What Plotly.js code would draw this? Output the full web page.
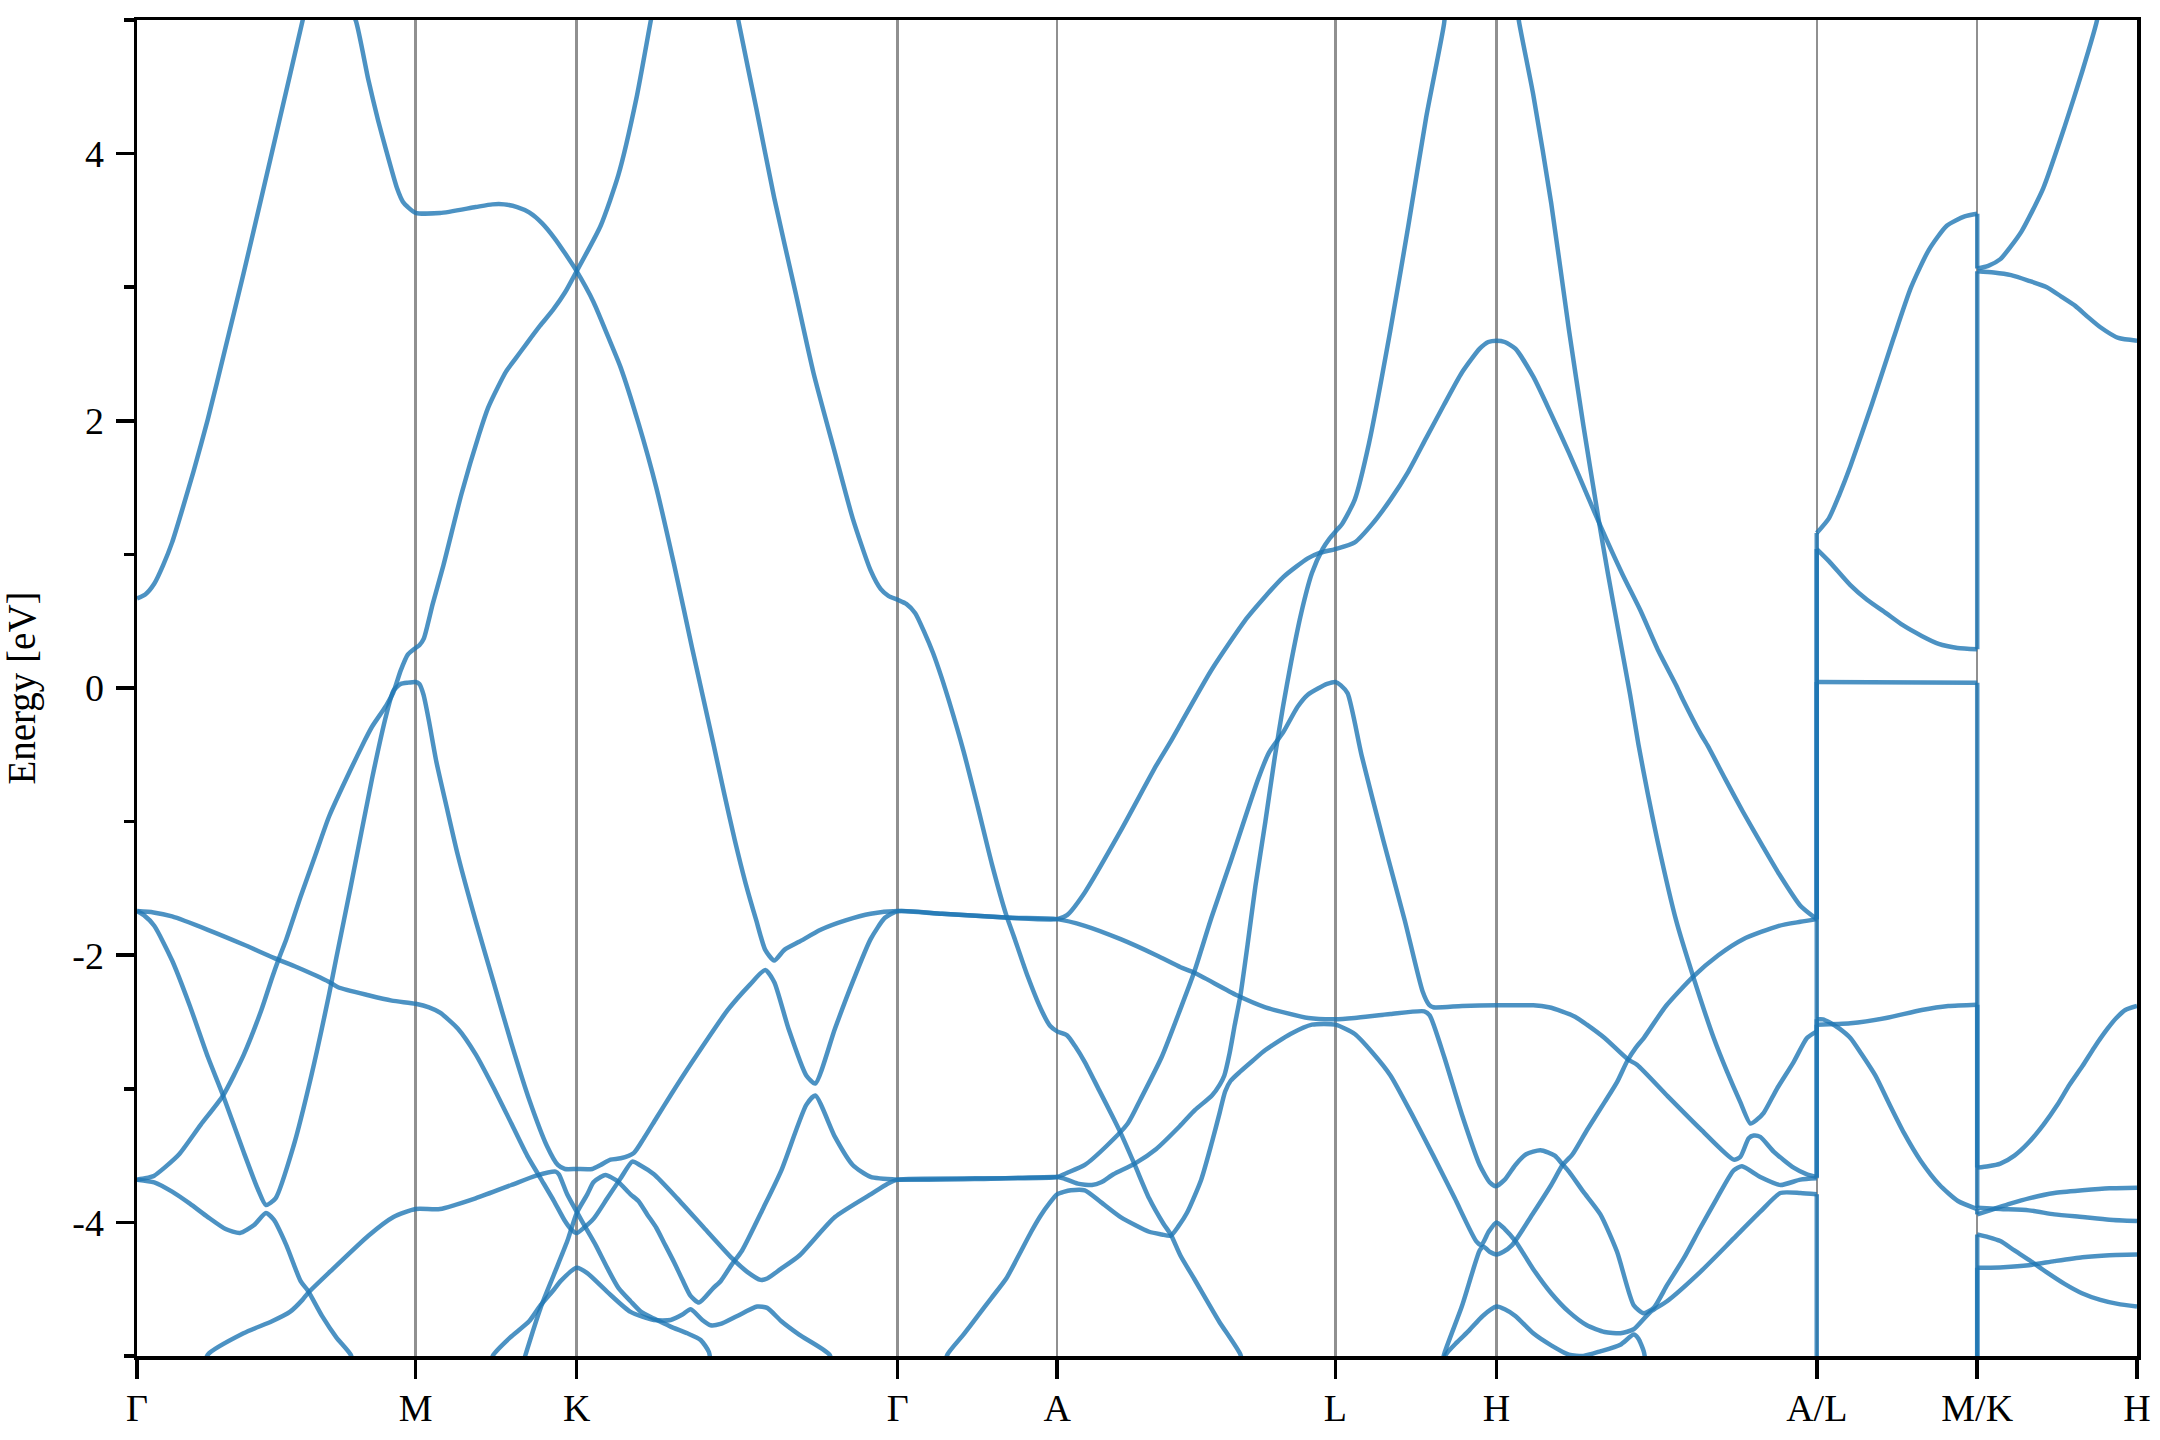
<!DOCTYPE html>
<html>
<head>
<meta charset="utf-8">
<script src="https://cdn.plot.ly/plotly-3.0.1.min.js"></script>
<style>html,body{margin:0;padding:0;background:#fff;}#chart{width:2160px;height:1440px;}</style>
</head>
<body>
<div id="chart"></div>
<script>
// k-path positions of the high-symmetry points and their labels
const kTicks = [0, 202.3, 319.2, 552.3, 668, 870, 987, 1219.5, 1336, 1452];
const kLabels = ['Γ', 'M', 'K', 'Γ', 'A', 'L', 'H', 'A/L', 'M/K', 'H'];
const eTicks = [-4, -2, 0, 2, 4];
const eTickText = ['-4', '-2', '0', '2', '4'];
const eMinor = [-5, -3, -1, 1, 3, 5];

// band pieces [k, E(eV)]
const T1 = [[0,0.67],[6,0.70],[12.5,0.78],[19,0.92],[25.5,1.09],[33,1.34],[41,1.62],[51.4,2.01],[64.3,2.55],[77.3,3.10],[90.3,3.67],[103.2,4.24],[120.1,4.99],[122.5,5.1]];
const T2 = [[154,5.1],[159,4.99],[168,4.55],[175,4.25],[181,4.02],[188.8,3.74],[193,3.64],[196.6,3.60],[202.3,3.556],[220,3.555],[245.8,3.60],[258,3.62],[266.6,3.62],[276,3.60],[284.7,3.56],[294,3.48],[302.9,3.37],[311,3.25],[319.2,3.12],[331.4,2.89],[344.4,2.57],[351.1,2.40],[364.1,1.98],[377,1.50],[390,0.92],[403,0.30],[418.5,-0.42],[426.3,-0.79],[434,-1.14],[441.8,-1.46],[449.6,-1.74],[456.1,-1.96],[462.6,-2.04],[470,-1.96],[480.7,-1.90],[496.3,-1.81],[514.4,-1.74],[532.6,-1.69],[552.3,-1.67],[584.4,-1.69],[633.7,-1.72],[668,-1.73],[675.2,-1.70],[688.1,-1.53],[714.1,-1.07],[740,-0.58],[750.5,-0.40],[757.6,-0.27],[780.4,0.14],[806.3,0.53],[832.2,0.83],[850,0.97],[858.1,1.01],[870,1.04],[884.1,1.09],[897,1.23],[910,1.41],[923,1.62],[935.9,1.87],[948.9,2.12],[961.8,2.36],[974.8,2.54],[981,2.59],[987,2.60],[993,2.59],[1000.7,2.54],[1013.7,2.33],[1026.7,2.05],[1039.6,1.76],[1052.6,1.45],[1063,1.20],[1078.5,0.85],[1091.5,0.58],[1104.4,0.28],[1117.4,0.02],[1122,-0.08],[1135,-0.34],[1140.2,-0.43],[1153,-0.68],[1166.1,-0.93],[1180,-1.18],[1192,-1.39],[1207.6,-1.63],[1219.5,-1.73]];
const P3 = [[0,-3.68],[6,-3.67],[12.5,-3.65],[20,-3.59],[30.6,-3.49],[46.2,-3.27],[62.5,-3.05],[77.3,-2.75],[90.3,-2.41],[98,-2.17],[103.2,-2.02],[108.4,-1.88],[118.8,-1.56],[129.2,-1.26],[139.5,-0.96],[155.1,-0.61],[165.5,-0.39],[170.6,-0.29],[181,-0.13],[186.2,-0.03],[191.4,0.13],[196.6,0.25],[202.3,0.30],[205,0.32],[208.2,0.37],[214.7,0.63],[222.5,0.92],[235.5,1.45],[248.4,1.90],[255,2.10],[261.4,2.24],[268,2.37],[274.4,2.46],[283,2.58],[292.5,2.71],[302,2.83],[310.7,2.96],[319.2,3.12],[336.6,3.46],[349.5,3.84],[362.5,4.41],[372.9,4.99],[375,5.1]];
const P4 = [[0,-1.67],[12,-1.68],[25.5,-1.71],[51.4,-1.81],[77.3,-1.92],[99.3,-2.02],[116.2,-2.09],[139.5,-2.20],[146,-2.24],[168,-2.30],[185,-2.34],[202.3,-2.364],[212,-2.39],[220,-2.43],[233,-2.55],[245.8,-2.74],[258.8,-2.99],[271.8,-3.26],[283.3,-3.50],[293,-3.67],[302.7,-3.84],[310.7,-3.99],[315,-4.05],[319.2,-4.08],[324.5,-4.04],[331.7,-3.97],[341.4,-3.82],[351.1,-3.67],[359.6,-3.545],[365,-3.57],[375.3,-3.64],[392.2,-3.82],[411.6,-4.04],[432.1,-4.27],[443,-4.37],[452.7,-4.43],[457.5,-4.42],[467.2,-4.35],[480.7,-4.25],[506.7,-3.96],[532.6,-3.79],[545,-3.71],[552.3,-3.68],[610,-3.67],[668,-3.66],[675,-3.63],[688.1,-3.57],[703.7,-3.43],[719.3,-3.26],[728.5,-3.08],[744,-2.76],[757.6,-2.40],[767.4,-2.13],[780,-1.72],[793.3,-1.32],[814,-0.68],[822,-0.48],[832.2,-0.33],[842.6,-0.14],[850,-0.05],[858.1,0.0],[864,0.03],[870,0.045],[874,0.02],[878.9,-0.04],[889.2,-0.51],[904.8,-1.14],[920.4,-1.74],[933.3,-2.27],[938,-2.37],[941.1,-2.39],[962,-2.38],[987,-2.375],[1013.7,-2.375],[1025,-2.39],[1034.4,-2.42],[1044,-2.46],[1052.6,-2.52],[1065.5,-2.62],[1082.4,-2.78],[1089,-2.82],[1110.8,-3.05],[1135,-3.30],[1159.2,-3.53],[1164,-3.51],[1170.1,-3.37],[1173.7,-3.35],[1178.5,-3.36],[1188.2,-3.47],[1202.7,-3.59],[1212.4,-3.64],[1219.5,-3.66]];
const P5 = [[0,-1.67],[5,-1.70],[12.5,-1.78],[25.5,-2.04],[38.4,-2.38],[51.4,-2.76],[62.5,-3.05],[77.3,-3.47],[87.7,-3.75],[93.6,-3.87],[100.6,-3.82],[113.6,-3.43],[126.6,-2.90],[139.5,-2.29],[144.7,-2.02],[155.1,-1.49],[170.6,-0.68],[181,-0.20],[186.2,-0.02],[191.4,0.03],[196.6,0.04],[202.3,0.045],[205,0.03],[208,-0.05],[212,-0.25],[217.3,-0.55],[225,-0.90],[232.9,-1.25],[245.8,-1.74],[258.8,-2.20],[271.8,-2.66],[284.7,-3.08],[297.7,-3.43],[305.5,-3.57],[310.7,-3.60],[319.2,-3.60],[330.5,-3.60],[336.6,-3.57],[343.8,-3.53],[351.1,-3.52],[360.7,-3.48],[368,-3.37],[377,-3.22],[387.3,-3.05],[403,-2.80],[428.9,-2.41],[445,-2.22],[456.1,-2.11],[462.6,-2.20],[473,-2.55],[485.9,-2.90],[492.4,-2.96],[506.7,-2.55],[519.6,-2.20],[532.6,-1.88],[543,-1.72],[552.3,-1.67],[584.4,-1.69],[633.7,-1.72],[668,-1.73],[688.1,-1.78],[714.1,-1.88],[740,-2.0],[757.6,-2.09],[767.4,-2.13],[798.5,-2.30],[819.2,-2.39],[850.4,-2.47],[870,-2.48],[884,-2.47],[910,-2.44],[934.6,-2.42],[938.5,-2.45],[949,-2.76],[961.8,-3.19],[974.8,-3.57],[982,-3.70],[986.5,-3.73],[993,-3.68],[1000.7,-3.57],[1008.5,-3.49],[1018.9,-3.46],[1029.3,-3.50],[1034.5,-3.56],[1039.6,-3.62],[1050,-3.77],[1062.4,-3.94],[1074.5,-4.22],[1086.6,-4.62],[1093.9,-4.68],[1101.1,-4.64],[1110.8,-4.47],[1122.9,-4.27],[1135,-4.04],[1147,-3.82],[1159.2,-3.61],[1165.2,-3.58],[1178.5,-3.66],[1193.1,-3.72],[1207.6,-3.68],[1219.5,-3.67]];
const V4 = [[0,-3.68],[12.5,-3.70],[25.5,-3.77],[38.4,-3.86],[51.4,-3.96],[64.3,-4.05],[74.7,-4.08],[85,-4.02],[93.6,-3.93],[99.3,-3.98],[108.4,-4.17],[118.8,-4.44],[124,-4.51],[134.3,-4.70],[144.7,-4.86],[155.1,-4.99],[158,-5.1]];
const V5 = [[48,-5.1],[51.4,-4.99],[77.3,-4.83],[98,-4.74],[111,-4.67],[120.1,-4.58],[124,-4.53],[142.1,-4.35],[168,-4.10],[186.2,-3.96],[202.3,-3.90],[220,-3.90],[245.8,-3.82],[271.8,-3.72],[289.9,-3.65],[303.9,-3.62],[306.3,-3.64],[312.3,-3.79],[319.2,-3.92],[326.9,-4.06],[333,-4.17],[341.4,-4.34],[349.5,-4.49],[358.3,-4.59],[366,-4.67],[375.3,-4.72],[387.4,-4.78],[399.5,-4.83],[409.2,-4.88],[415.2,-4.97],[417,-5.1]];
const GAM = [[279,-5.1],[282.1,-4.99],[293,-4.64],[302.7,-4.39],[312.4,-4.14],[319.2,-3.93],[326.9,-3.79],[331.4,-3.70],[336.6,-3.66],[340.2,-3.645],[348.7,-3.69],[358.3,-3.79],[364,-3.84],[370.4,-3.94],[377,-4.04],[382.5,-4.15],[390,-4.30],[396,-4.43],[401.9,-4.55],[408,-4.60],[418.5,-4.49],[423.7,-4.44],[431.5,-4.32],[439.3,-4.21],[454.8,-3.89],[467.8,-3.61],[485.9,-3.12],[492.4,-3.05],[506.7,-3.36],[519.6,-3.57],[532.6,-3.66],[552.3,-3.68],[610,-3.675],[668,-3.66],[672.6,-3.67],[683,-3.71],[693.3,-3.72],[700,-3.70],[708.9,-3.64],[724.4,-3.56],[740,-3.45],[757,-3.28],[768,-3.16],[780.4,-3.05],[786,-2.97],[789.4,-2.90],[793.3,-2.73],[797,-2.52],[801.1,-2.30],[806.3,-1.92],[812,-1.48],[819.2,-1.0],[826,-0.52],[832,-0.14],[838,0.20],[845.2,0.56],[853,0.86],[860.7,1.04],[865.9,1.12],[870,1.17],[875,1.23],[884.1,1.41],[894.4,1.83],[910,2.68],[923,3.46],[935.9,4.27],[948.9,4.97],[950,5.1]];
const DEL = [[255,-5.1],[258.8,-4.99],[271,-4.86],[284.7,-4.74],[293,-4.62],[302.9,-4.50],[307.5,-4.44],[319.2,-4.34],[326.9,-4.38],[341.4,-4.52],[358.3,-4.67],[375.3,-4.73],[387.4,-4.73],[396,-4.69],[401.9,-4.65],[410.4,-4.73],[416.4,-4.77],[423.7,-4.76],[435.8,-4.70],[450.3,-4.63],[457.5,-4.64],[467.8,-4.74],[480.7,-4.84],[502.8,-4.99],[505,-5.1]];
const T4 = [[435,5.1],[436.7,4.99],[449.6,4.34],[462.6,3.67],[478.1,2.96],[491.1,2.36],[506.7,1.76],[519.6,1.27],[532.6,0.88],[540,0.74],[545.5,0.69],[552.3,0.66],[558.5,0.63],[565,0.56],[571.5,0.42],[578,0.26],[584.4,0.07],[589.6,-0.10],[600,-0.47],[610.4,-0.89],[620.7,-1.32],[631.1,-1.70],[636.3,-1.85],[646.7,-2.16],[657,-2.42],[663,-2.53],[668,-2.57],[675.2,-2.60],[681,-2.68],[688.1,-2.80],[698.5,-3.01],[708.9,-3.22],[714.1,-3.33],[724.4,-3.57],[734.8,-3.82],[745.2,-4.01],[750.5,-4.09],[757.6,-4.25],[767.4,-4.42],[785.5,-4.74],[801.1,-4.99],[803,-5.1]];
const S = [[586,-5.1],[588.3,-4.99],[600,-4.84],[610.4,-4.70],[620,-4.57],[631.1,-4.42],[640,-4.25],[649.2,-4.07],[656,-3.95],[662.2,-3.86],[668,-3.79],[678,-3.76],[688.1,-3.76],[700,-3.85],[714.1,-3.96],[734.8,-4.07],[744,-4.09],[750.4,-4.10],[756,-4.03],[762.2,-3.93],[772.6,-3.68],[780.4,-3.40],[786,-3.18],[790,-3.02],[794,-2.94],[801.1,-2.87],[810,-2.79],[819.2,-2.71],[837.4,-2.59],[853,-2.52],[870,-2.52],[884.1,-2.59],[897,-2.73],[910,-2.90],[925.5,-3.19],[941.1,-3.50],[956.7,-3.82],[972.2,-4.14],[976,-4.17],[981.3,-4.07],[987,-4.00],[993,-4.05],[1000.7,-4.14],[1013.7,-4.35],[1026.7,-4.53],[1039.6,-4.67],[1052.6,-4.77],[1065.5,-4.82],[1077,-4.83],[1086.6,-4.80],[1098.7,-4.67],[1110.8,-4.59],[1135,-4.37],[1159.2,-4.12],[1178.5,-3.92],[1193.1,-3.78],[1207.6,-3.78],[1219.5,-3.79],[1219.5,-5.5]];
const R = [[947,-5.1],[948.9,-4.99],[961.8,-4.63],[974.8,-4.21],[977.4,-4.18],[982,-4.22],[987,-4.24],[992,-4.22],[998.3,-4.17],[1013.7,-3.93],[1026.7,-3.72],[1035,-3.57],[1042.2,-3.49],[1052.6,-3.31],[1065.5,-3.10],[1074.5,-2.95],[1082,-2.79],[1088.3,-2.69],[1093.9,-2.62],[1110,-2.38],[1129.8,-2.16],[1148,-2.00],[1166.1,-1.88],[1192,-1.78],[1207.6,-1.75],[1219.5,-1.73]];
const T5 = [[1002,5.1],[1003.3,4.99],[1013.7,4.44],[1026.7,3.63],[1039.6,2.68],[1050,1.97],[1061,1.27],[1068,0.85],[1076,0.40],[1084,-0.05],[1090,-0.42],[1097,-0.80],[1104,-1.15],[1117.4,-1.74],[1129.8,-2.16],[1144.7,-2.62],[1154.3,-2.87],[1164,-3.10],[1171.3,-3.26],[1176.1,-3.23],[1181,-3.18],[1190.6,-3.0],[1202.7,-2.80],[1212.4,-2.62],[1219.5,-2.57]];
const B1 = [[945,-5.15],[950.2,-4.99],[958,-4.90],[967,-4.81],[977,-4.70],[987,-4.63],[993,-4.65],[1000.7,-4.70],[1013.7,-4.83],[1026.7,-4.92],[1039.6,-4.99],[1050,-5.0],[1062.4,-4.965],[1076.9,-4.915],[1086.6,-4.84],[1090,-4.87],[1093.9,-4.965],[1096,-5.1]];
// L -> M
const G1 = [[1219.5,1.16],[1228.3,1.27],[1236,1.45],[1243.9,1.66],[1259.4,2.12],[1275,2.61],[1288,3.0],[1300.9,3.28],[1313.9,3.46],[1326.9,3.53],[1336,3.55]];
const G2 = [[1219.5,1.04],[1228.3,0.95],[1243.9,0.77],[1256,0.66],[1269.8,0.56],[1282,0.47],[1295.7,0.39],[1308,0.33],[1321.7,0.30],[1336,0.29]];
const G3 = [[1219.5,0.045],[1336,0.04]];
const G4 = [[1219.5,-2.52],[1243.9,-2.51],[1269.8,-2.47],[1295.7,-2.41],[1315,-2.38],[1336,-2.37]];
const G5 = [[1219.5,-2.48],[1224,-2.48],[1228.3,-2.50],[1236,-2.55],[1243.9,-2.62],[1252,-2.74],[1262,-2.90],[1272,-3.11],[1282.8,-3.33],[1295,-3.54],[1308.7,-3.72],[1322,-3.84],[1336,-3.90]];
// K -> H
const H1 = [[1336,3.14],[1344,3.16],[1352.8,3.21],[1360,3.30],[1368.3,3.42],[1383.9,3.74],[1399.4,4.20],[1412.4,4.62],[1422.8,4.99],[1424.5,5.1]];
const H2 = [[1336,3.12],[1348,3.11],[1360.6,3.09],[1373,3.05],[1386.5,3.0],[1397,2.93],[1407.2,2.86],[1416,2.78],[1425.4,2.70],[1438.4,2.62],[1452,2.60]];
const H3 = [[1336,-3.59],[1344,-3.58],[1352.8,-3.56],[1363,-3.50],[1373.5,-3.40],[1384,-3.27],[1394.2,-3.12],[1403,-2.97],[1412.4,-2.83],[1421,-2.69],[1430.6,-2.55],[1437,-2.47],[1443.5,-2.41],[1452,-2.38]];
const H4 = [[1336,-3.89],[1352.8,-3.90],[1373.5,-3.91],[1392,-3.94],[1412.4,-3.96],[1432,-3.98],[1452,-3.99]];
const H5 = [[1336,-3.94],[1348,-3.90],[1360,-3.86],[1373.5,-3.82],[1392,-3.78],[1412.4,-3.76],[1432,-3.745],[1452,-3.74]];
const H6 = [[1336,-5.5],[1336,-4.09],[1344,-4.11],[1352.8,-4.14],[1363,-4.21],[1373.5,-4.28],[1386,-4.37],[1399.4,-4.46],[1412,-4.53],[1425.4,-4.58],[1438,-4.61],[1452,-4.63]];
const H7 = [[1336,-5.6],[1336,-4.34],[1355,-4.335],[1373.5,-4.32],[1392,-4.29],[1412.4,-4.26],[1432,-4.245],[1452,-4.24]];

// bands: pieces joined across the A|L and M|K path breaks
const bands = [
  [T1], [T2, G1, H1], [P3], [P4, G5, H5], [P5, G4, H4],
  [V4], [V5], [GAM], [DEL], [T4], [S], [R, G2, H2], [T5, G3, H3], [B1], [H6], [H7]
];

const lineColor = '#1f77b4';
function mk(pts, shape) {
  return {
    type: 'scatter', mode: 'lines',
    x: pts.map(p => p[0]), y: pts.map(p => p[1]),
    line: {color: lineColor, width: 4.5, shape: shape, smoothing: 0.6},
    opacity: 0.8, hoverinfo: 'skip', showlegend: false
  };
}
const traces = [];
bands.forEach(parts => {
  const pts = [].concat(...parts);
  let cur = [pts[0]];
  for (let i = 1; i < pts.length; i++) {
    if (pts[i][0] === pts[i - 1][0]) {          // path break: straight vertical jump
      if (cur.length > 1) traces.push(mk(cur, 'spline'));
      traces.push(mk([pts[i - 1], pts[i]], 'linear'));
      cur = [pts[i]];
    } else {
      cur.push(pts[i]);
    }
  }
  if (cur.length > 1) traces.push(mk(cur, 'spline'));
});

const font = {family: 'Liberation Serif, Times New Roman, serif', size: 38, color: '#000'};
const layout = {
  width: 2160, height: 1440,
  margin: {l: 137, r: 23, t: 20, b: 84},
  paper_bgcolor: '#fff', plot_bgcolor: '#fff',
  showlegend: false, hovermode: false,
  font: font,
  xaxis: {
    range: [kTicks[0], kTicks[kTicks.length - 1]],
    tickmode: 'array', tickvals: kTicks, ticktext: kLabels,
    ticks: 'outside', ticklen: 19, tickwidth: 3.5, tickcolor: '#000',
    ticklabelstandoff: -3,
    showline: true, linewidth: 3.5, linecolor: '#000', mirror: true,
    showgrid: true, gridcolor: 'rgba(125,125,125,0.85)', gridwidth: 2.5,
    zeroline: false, tickfont: font
  },
  yaxis: {
    range: [-5, 5],
    tickmode: 'array', tickvals: eTicks, ticktext: eTickText,
    ticks: 'outside', ticklen: 18, tickwidth: 3.5, tickcolor: '#000',
    ticklabelstandoff: 4,
    minor: {tickmode: 'array', tickvals: eMinor, ticks: 'outside', ticklen: 10, tickwidth: 3.5, tickcolor: '#000', showgrid: false},
    showline: true, linewidth: 3.5, linecolor: '#000', mirror: true,
    showgrid: false, zeroline: false, tickfont: font,
    title: {text: 'Energy [eV]', font: {family: font.family, size: 39, color: '#000'}, standoff: 36}
  }
};

Plotly.newPlot('chart', traces, layout, {displayModeBar: false, staticPlot: true});
</script>
</body>
</html>
